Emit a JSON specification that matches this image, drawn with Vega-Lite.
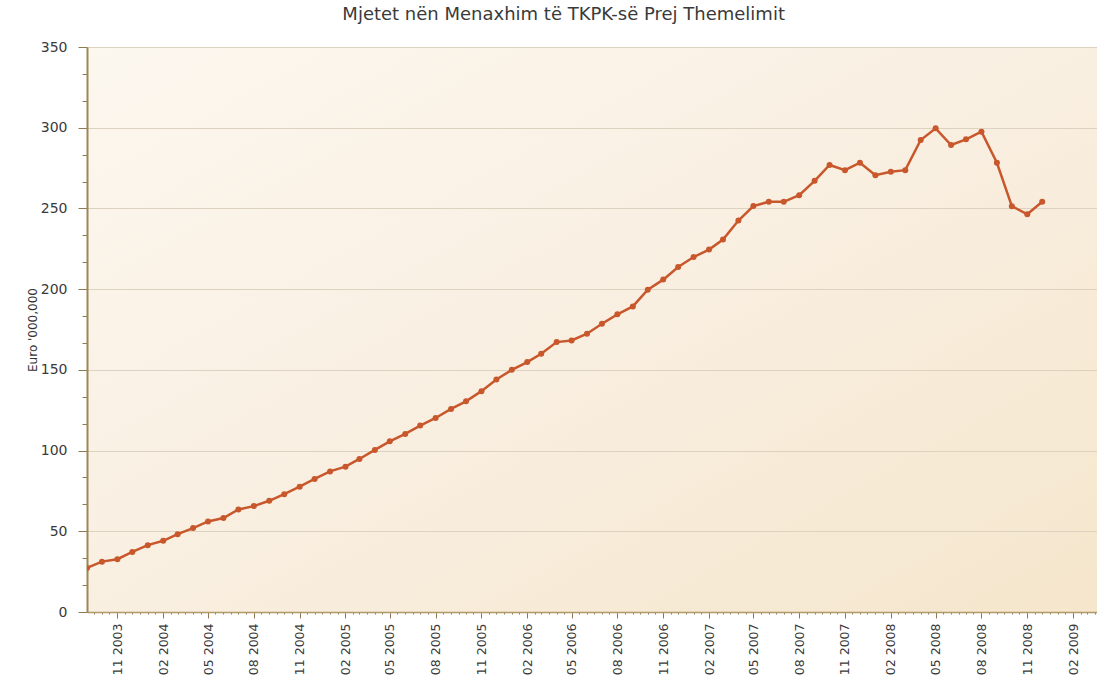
{
  "$schema": "https://vega.github.io/schema/vega-lite/v6.json",
  "width": 1010,
  "height": 565,
  "autosize": "none",
  "padding": {"left": 87, "top": 47, "right": 0, "bottom": 76},
  "background": "white",
  "title": {
    "text": "Mjetet nën Menaxhim të TKPK-së Prej Themelimit",
    "font": "DejaVu Sans",
    "fontSize": 18,
    "fontWeight": "normal",
    "color": "#3a3a3a",
    "anchor": "middle",
    "frame": "bounds",
    "offset": 16
  },
  "config": {
    "view": {
      "stroke": null,
      "fill": {
        "gradient": "linear",
        "x1": 0, "y1": 0, "x2": 1, "y2": 1,
        "stops": [
          {"offset": 0, "color": "#fcf7ef"},
          {"offset": 0.5, "color": "#f9efe1"},
          {"offset": 1, "color": "#f5e6cc"}
        ]
      }
    }
  },
  "data": {
    "values": [
      {"date": "2003-09-01", "value": 27.3},
      {"date": "2003-10-01", "value": 31.2},
      {"date": "2003-11-01", "value": 32.7},
      {"date": "2003-12-01", "value": 37.2},
      {"date": "2004-01-01", "value": 41.4},
      {"date": "2004-02-01", "value": 44.1},
      {"date": "2004-03-01", "value": 48.2},
      {"date": "2004-04-01", "value": 52.0},
      {"date": "2004-05-01", "value": 56.1},
      {"date": "2004-06-01", "value": 58.2},
      {"date": "2004-07-01", "value": 63.5},
      {"date": "2004-08-01", "value": 65.6},
      {"date": "2004-09-01", "value": 68.9},
      {"date": "2004-10-01", "value": 73.0},
      {"date": "2004-11-01", "value": 77.6},
      {"date": "2004-12-01", "value": 82.4},
      {"date": "2005-01-01", "value": 87.1},
      {"date": "2005-02-01", "value": 90.0},
      {"date": "2005-03-01", "value": 94.8},
      {"date": "2005-04-01", "value": 100.4},
      {"date": "2005-05-01", "value": 105.7},
      {"date": "2005-06-01", "value": 110.3},
      {"date": "2005-07-01", "value": 115.5},
      {"date": "2005-08-01", "value": 120.2},
      {"date": "2005-09-01", "value": 125.8},
      {"date": "2005-10-01", "value": 130.5},
      {"date": "2005-11-01", "value": 136.8},
      {"date": "2005-12-01", "value": 144.0},
      {"date": "2006-01-01", "value": 150.0},
      {"date": "2006-02-01", "value": 154.8},
      {"date": "2006-03-01", "value": 160.0},
      {"date": "2006-04-01", "value": 167.2},
      {"date": "2006-05-01", "value": 168.2},
      {"date": "2006-06-01", "value": 172.4},
      {"date": "2006-07-01", "value": 178.6},
      {"date": "2006-08-01", "value": 184.4},
      {"date": "2006-09-01", "value": 189.3},
      {"date": "2006-10-01", "value": 199.7},
      {"date": "2006-11-01", "value": 205.9},
      {"date": "2006-12-01", "value": 213.7},
      {"date": "2007-01-01", "value": 219.9},
      {"date": "2007-02-01", "value": 224.5},
      {"date": "2007-03-01", "value": 230.7},
      {"date": "2007-04-01", "value": 242.5},
      {"date": "2007-05-01", "value": 251.5},
      {"date": "2007-06-01", "value": 254.1},
      {"date": "2007-07-01", "value": 254.1},
      {"date": "2007-08-01", "value": 258.2},
      {"date": "2007-09-01", "value": 267.1},
      {"date": "2007-10-01", "value": 276.9},
      {"date": "2007-11-01", "value": 273.7},
      {"date": "2007-12-01", "value": 278.3},
      {"date": "2008-01-01", "value": 270.6},
      {"date": "2008-02-01", "value": 272.7},
      {"date": "2008-03-01", "value": 273.7},
      {"date": "2008-04-01", "value": 292.4},
      {"date": "2008-05-01", "value": 299.6},
      {"date": "2008-06-01", "value": 289.3},
      {"date": "2008-07-01", "value": 292.8},
      {"date": "2008-08-01", "value": 297.5},
      {"date": "2008-09-01", "value": 278.3},
      {"date": "2008-10-01", "value": 251.4},
      {"date": "2008-11-01", "value": 246.4},
      {"date": "2008-12-01", "value": 254.1}
    ]
  },
  "mark": {
    "type": "line",
    "color": "#c8572b",
    "strokeWidth": 2.5,
    "clip": true,
    "point": {"filled": true, "size": 36, "color": "#c8572b", "opacity": 1}
  },
  "encoding": {
    "x": {
      "field": "date",
      "type": "temporal",
      "scale": {
        "type": "utc",
        "domain": [
          {"year": 2003, "month": 9, "date": 1, "utc": true},
          {"year": 2009, "month": 3, "date": 21, "utc": true}
        ]
      },
      "axis": {
        "title": null,
        "grid": false,
        "values": [
          {"year": 2003, "month": 9, "date": 16, "utc": true},
          {"year": 2003, "month": 10, "date": 1, "utc": true}, {"year": 2003, "month": 10, "date": 16, "utc": true},
          {"year": 2003, "month": 11, "date": 1, "utc": true}, {"year": 2003, "month": 11, "date": 16, "utc": true},
          {"year": 2003, "month": 12, "date": 1, "utc": true}, {"year": 2003, "month": 12, "date": 16, "utc": true},
          {"year": 2004, "month": 1, "date": 1, "utc": true}, {"year": 2004, "month": 1, "date": 16, "utc": true},
          {"year": 2004, "month": 2, "date": 1, "utc": true}, {"year": 2004, "month": 2, "date": 16, "utc": true},
          {"year": 2004, "month": 3, "date": 1, "utc": true}, {"year": 2004, "month": 3, "date": 16, "utc": true},
          {"year": 2004, "month": 4, "date": 1, "utc": true}, {"year": 2004, "month": 4, "date": 16, "utc": true},
          {"year": 2004, "month": 5, "date": 1, "utc": true}, {"year": 2004, "month": 5, "date": 16, "utc": true},
          {"year": 2004, "month": 6, "date": 1, "utc": true}, {"year": 2004, "month": 6, "date": 16, "utc": true},
          {"year": 2004, "month": 7, "date": 1, "utc": true}, {"year": 2004, "month": 7, "date": 16, "utc": true},
          {"year": 2004, "month": 8, "date": 1, "utc": true}, {"year": 2004, "month": 8, "date": 16, "utc": true},
          {"year": 2004, "month": 9, "date": 1, "utc": true}, {"year": 2004, "month": 9, "date": 16, "utc": true},
          {"year": 2004, "month": 10, "date": 1, "utc": true}, {"year": 2004, "month": 10, "date": 16, "utc": true},
          {"year": 2004, "month": 11, "date": 1, "utc": true}, {"year": 2004, "month": 11, "date": 16, "utc": true},
          {"year": 2004, "month": 12, "date": 1, "utc": true}, {"year": 2004, "month": 12, "date": 16, "utc": true},
          {"year": 2005, "month": 1, "date": 1, "utc": true}, {"year": 2005, "month": 1, "date": 16, "utc": true},
          {"year": 2005, "month": 2, "date": 1, "utc": true}, {"year": 2005, "month": 2, "date": 16, "utc": true},
          {"year": 2005, "month": 3, "date": 1, "utc": true}, {"year": 2005, "month": 3, "date": 16, "utc": true},
          {"year": 2005, "month": 4, "date": 1, "utc": true}, {"year": 2005, "month": 4, "date": 16, "utc": true},
          {"year": 2005, "month": 5, "date": 1, "utc": true}, {"year": 2005, "month": 5, "date": 16, "utc": true},
          {"year": 2005, "month": 6, "date": 1, "utc": true}, {"year": 2005, "month": 6, "date": 16, "utc": true},
          {"year": 2005, "month": 7, "date": 1, "utc": true}, {"year": 2005, "month": 7, "date": 16, "utc": true},
          {"year": 2005, "month": 8, "date": 1, "utc": true}, {"year": 2005, "month": 8, "date": 16, "utc": true},
          {"year": 2005, "month": 9, "date": 1, "utc": true}, {"year": 2005, "month": 9, "date": 16, "utc": true},
          {"year": 2005, "month": 10, "date": 1, "utc": true}, {"year": 2005, "month": 10, "date": 16, "utc": true},
          {"year": 2005, "month": 11, "date": 1, "utc": true}, {"year": 2005, "month": 11, "date": 16, "utc": true},
          {"year": 2005, "month": 12, "date": 1, "utc": true}, {"year": 2005, "month": 12, "date": 16, "utc": true},
          {"year": 2006, "month": 1, "date": 1, "utc": true}, {"year": 2006, "month": 1, "date": 16, "utc": true},
          {"year": 2006, "month": 2, "date": 1, "utc": true}, {"year": 2006, "month": 2, "date": 16, "utc": true},
          {"year": 2006, "month": 3, "date": 1, "utc": true}, {"year": 2006, "month": 3, "date": 16, "utc": true},
          {"year": 2006, "month": 4, "date": 1, "utc": true}, {"year": 2006, "month": 4, "date": 16, "utc": true},
          {"year": 2006, "month": 5, "date": 1, "utc": true}, {"year": 2006, "month": 5, "date": 16, "utc": true},
          {"year": 2006, "month": 6, "date": 1, "utc": true}, {"year": 2006, "month": 6, "date": 16, "utc": true},
          {"year": 2006, "month": 7, "date": 1, "utc": true}, {"year": 2006, "month": 7, "date": 16, "utc": true},
          {"year": 2006, "month": 8, "date": 1, "utc": true}, {"year": 2006, "month": 8, "date": 16, "utc": true},
          {"year": 2006, "month": 9, "date": 1, "utc": true}, {"year": 2006, "month": 9, "date": 16, "utc": true},
          {"year": 2006, "month": 10, "date": 1, "utc": true}, {"year": 2006, "month": 10, "date": 16, "utc": true},
          {"year": 2006, "month": 11, "date": 1, "utc": true}, {"year": 2006, "month": 11, "date": 16, "utc": true},
          {"year": 2006, "month": 12, "date": 1, "utc": true}, {"year": 2006, "month": 12, "date": 16, "utc": true},
          {"year": 2007, "month": 1, "date": 1, "utc": true}, {"year": 2007, "month": 1, "date": 16, "utc": true},
          {"year": 2007, "month": 2, "date": 1, "utc": true}, {"year": 2007, "month": 2, "date": 16, "utc": true},
          {"year": 2007, "month": 3, "date": 1, "utc": true}, {"year": 2007, "month": 3, "date": 16, "utc": true},
          {"year": 2007, "month": 4, "date": 1, "utc": true}, {"year": 2007, "month": 4, "date": 16, "utc": true},
          {"year": 2007, "month": 5, "date": 1, "utc": true}, {"year": 2007, "month": 5, "date": 16, "utc": true},
          {"year": 2007, "month": 6, "date": 1, "utc": true}, {"year": 2007, "month": 6, "date": 16, "utc": true},
          {"year": 2007, "month": 7, "date": 1, "utc": true}, {"year": 2007, "month": 7, "date": 16, "utc": true},
          {"year": 2007, "month": 8, "date": 1, "utc": true}, {"year": 2007, "month": 8, "date": 16, "utc": true},
          {"year": 2007, "month": 9, "date": 1, "utc": true}, {"year": 2007, "month": 9, "date": 16, "utc": true},
          {"year": 2007, "month": 10, "date": 1, "utc": true}, {"year": 2007, "month": 10, "date": 16, "utc": true},
          {"year": 2007, "month": 11, "date": 1, "utc": true}, {"year": 2007, "month": 11, "date": 16, "utc": true},
          {"year": 2007, "month": 12, "date": 1, "utc": true}, {"year": 2007, "month": 12, "date": 16, "utc": true},
          {"year": 2008, "month": 1, "date": 1, "utc": true}, {"year": 2008, "month": 1, "date": 16, "utc": true},
          {"year": 2008, "month": 2, "date": 1, "utc": true}, {"year": 2008, "month": 2, "date": 16, "utc": true},
          {"year": 2008, "month": 3, "date": 1, "utc": true}, {"year": 2008, "month": 3, "date": 16, "utc": true},
          {"year": 2008, "month": 4, "date": 1, "utc": true}, {"year": 2008, "month": 4, "date": 16, "utc": true},
          {"year": 2008, "month": 5, "date": 1, "utc": true}, {"year": 2008, "month": 5, "date": 16, "utc": true},
          {"year": 2008, "month": 6, "date": 1, "utc": true}, {"year": 2008, "month": 6, "date": 16, "utc": true},
          {"year": 2008, "month": 7, "date": 1, "utc": true}, {"year": 2008, "month": 7, "date": 16, "utc": true},
          {"year": 2008, "month": 8, "date": 1, "utc": true}, {"year": 2008, "month": 8, "date": 16, "utc": true},
          {"year": 2008, "month": 9, "date": 1, "utc": true}, {"year": 2008, "month": 9, "date": 16, "utc": true},
          {"year": 2008, "month": 10, "date": 1, "utc": true}, {"year": 2008, "month": 10, "date": 16, "utc": true},
          {"year": 2008, "month": 11, "date": 1, "utc": true}, {"year": 2008, "month": 11, "date": 16, "utc": true},
          {"year": 2008, "month": 12, "date": 1, "utc": true}, {"year": 2008, "month": 12, "date": 16, "utc": true},
          {"year": 2009, "month": 1, "date": 1, "utc": true}, {"year": 2009, "month": 1, "date": 16, "utc": true},
          {"year": 2009, "month": 2, "date": 1, "utc": true}, {"year": 2009, "month": 2, "date": 16, "utc": true},
          {"year": 2009, "month": 3, "date": 1, "utc": true}, {"year": 2009, "month": 3, "date": 16, "utc": true}
        ],
        "labelExpr": "utcdate(datum.value) == 1 && utcmonth(datum.value) % 3 == 1 ? utcFormat(datum.value, '%m %Y') : ''",
        "labelAngle": 270,
        "labelFont": "DejaVu Sans",
        "labelFontSize": 12.5,
        "labelColor": "#3a3a3a",
        "labelOverlap": false,
        "labelBound": false,
        "labelFlush": false,
        "labelPadding": 5,
        "domainColor": "#b09a68",
        "domainWidth": 1.5,
        "tickColor": "#8c7a52",
        "tickWidth": 1,
        "tickSize": {"condition": {"test": "utcdate(datum.value) == 1 && utcmonth(datum.value) % 3 == 1", "value": 6}, "value": 2}
      }
    },
    "y": {
      "field": "value",
      "type": "quantitative",
      "scale": {"domain": [0, 350], "nice": false},
      "axis": {
        "title": "Euro '000,000",
        "titleFont": "DejaVu Sans",
        "titleFontSize": 12,
        "titleFontWeight": "normal",
        "titleColor": "#333333",
        "titlePadding": 1,
        "values": [0, 16.667, 33.333, 50, 66.667, 83.333, 100, 116.667, 133.333, 150, 166.667, 183.333, 200, 216.667, 233.333, 250, 266.667, 283.333, 300, 316.667, 333.333, 350],
        "labelExpr": "datum.value % 50 == 0 ? datum.label : ''",
        "labelFont": "DejaVu Sans",
        "labelFontSize": 14,
        "labelColor": "#3a3a3a",
        "labelPadding": 11,
        "labelOverlap": false,
        "labelBound": false,
        "labelFlush": false,
        "domainColor": "#9c8757",
        "domainWidth": 2,
        "tickColor": "#8c7a52",
        "tickWidth": 1,
        "tickSize": {"condition": {"test": "datum.value % 50 == 0", "value": 9}, "value": 5},
        "grid": true,
        "gridColor": "#ddd2bf",
        "gridWidth": 1,
        "gridOpacity": {"condition": {"test": "datum.value % 50 == 0", "value": 1}, "value": 0}
      }
    }
  }
}
